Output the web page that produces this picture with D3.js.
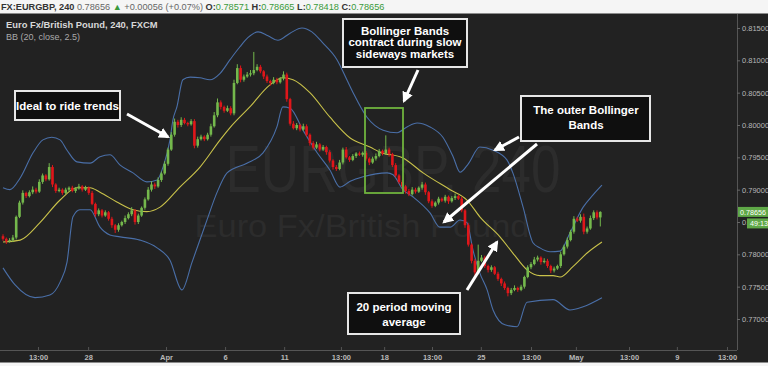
<!DOCTYPE html>
<html><head><meta charset="utf-8">
<script src="https://cdn.jsdelivr.net/npm/d3@7"></script>
<style>
html,body{margin:0;padding:0;background:#f4f4f4;}
svg{display:block;font-family:"Liberation Sans",Arial,sans-serif;}
</style></head><body>
<svg id="c" width="768" height="366"></svg>
<script>
// ---- data (4h candles, EURGBP) ----
const closes=[.7824,.7820,.7822,.7826,.7858,.7880,.7895,.7890,.7896,.7900,
 .7897,.7912,.7922,.7916,.7935,.7908,.7898,.7900,.7895,.7900,
 .7903,.7898,.7902,.7905,.7900,.7903,.7895,.7878,.7862,.7868,
 .7860,.7865,.7855,.7845,.7838,.7845,.7850,.7856,.7862,.7868,
 .7850,.7860,.7872,.7885,.7900,.7908,.7905,.7915,.7925,.7940,
 .7962,.7985,.8005,.8000,.8008,.8003,.8001,.8006,.7968,.7978,
 .7982,.7978,.7985,.7998,.8015,.8035,.8028,.8022,.8026,.8018,
 .8065,.8088,.8070,.8075,.8078,.8080,.8085,.8090,.8083,.8075,
 .8068,.8065,.8070,.8066,.8072,.8078,.8040,.8002,.7995,.8000,
 .7993,.7998,.7985,.7972,.7965,.7970,.7962,.7966,.7958,.7945,
 .7935,.7932,.7942,.7962,.7950,.7946,.7952,.7956,.7954,.7957,
 .7948,.7942,.7948,.7952,.7960,.7956,.7962,.7955,.7938,.7922,
 .7912,.7905,.7898,.7893,.7900,.7897,.7903,.7908,.7896,.7882,
 .7875,.7880,.7886,.7883,.7889,.7882,.7887,.7890,.7886,.7868,
 .7845,.7815,.7790,.7772,.7790,.7795,.7782,.7776,.7780,.7770,
 .7762,.7755,.7748,.7740,.7745,.7748,.7745,.7750,.7765,.7780,
 .7785,.7792,.7795,.7788,.7790,.7782,.7775,.7778,.7782,.7800,
 .7812,.7822,.7835,.7855,.7852,.7858,.7835,.7840,.7856,.7865,
 .7857,.78656];
const opens=[.7828,.7824,.7820,.7822,.7826,.7858,.7880,.7895,.7890,.7896,
 .7900,.7897,.7912,.7922,.7916,.7935,.7908,.7898,.7900,.7895,
 .7900,.7903,.7898,.7902,.7905,.7900,.7903,.7895,.7878,.7862,
 .7868,.7860,.7865,.7855,.7845,.7838,.7845,.7850,.7856,.7862,
 .7868,.7850,.7860,.7872,.7885,.7900,.7908,.7905,.7915,.7925,
 .7940,.7962,.7985,.8005,.8000,.8008,.8003,.8001,.8006,.7968,
 .7978,.7982,.7978,.7985,.7998,.8015,.8035,.8028,.8022,.8026,
 .8018,.8065,.8088,.8070,.8075,.8078,.8080,.8085,.8090,.8083,
 .8075,.8068,.8065,.8070,.8066,.8072,.8078,.8040,.8002,.7995,
 .8000,.7993,.7998,.7985,.7972,.7965,.7970,.7962,.7966,.7958,
 .7945,.7935,.7932,.7942,.7962,.7950,.7946,.7952,.7956,.7954,
 .7957,.7948,.7942,.7948,.7952,.7960,.7956,.7962,.7955,.7938,
 .7922,.7912,.7905,.7898,.7893,.7900,.7897,.7903,.7908,.7896,
 .7882,.7875,.7880,.7886,.7883,.7889,.7882,.7887,.7890,.7886,
 .7868,.7845,.7815,.7790,.7772,.7790,.7795,.7782,.7776,.7780,
 .7770,.7762,.7755,.7748,.7740,.7745,.7748,.7745,.7750,.7765,
 .7780,.7785,.7792,.7795,.7788,.7790,.7782,.7775,.7778,.7782,
 .7800,.7812,.7822,.7835,.7855,.7852,.7858,.7835,.7840,.7856,
 .7865,.78571];
// wick lengths beyond the body, in pips
const wickUp=[3,2,3,4,2,3,4,2,3,5, 3,4,3,2,6,3,2,3,2,3, 2,3,2,4,2,3,2,3,2,3,
 2,3,2,3,2,3,2,4,3,5, 2,3,2,3,4,5,3,4,3,4, 3,4,5,3,4,3,2,3,3,4,
 3,2,3,4,5,6,3,2,4,3, 5,6,4,3,4,5,28,4,3,2, 3,2,4,3,2,5,3,2,4,3,
 2,4,3,2,3,4,2,3,2,3, 2,3,4,3,4,2,3,2,3,2, 3,2,3,4,3,2,22,3,2,3,
 2,3,2,3,4,3,2,4,3,2, 3,2,3,2,3,2,3,4,2,3, 2,3,2,3,25,4,3,2,3,2,
 3,2,3,2,3,4,2,3,2,3, 3,4,3,2,4,3,2,3,2,4, 3,4,3,4,3,4,5,3,4,3, 3,1];
const wickDn=[3,4,2,3,3,2,3,3,2,3, 3,2,3,3,2,4,3,2,3,2, 3,2,3,2,3,2,3,2,4,3,
 3,2,3,4,5,3,2,3,2,3, 4,3,2,3,2,3,4,2,3,2, 3,2,3,4,3,2,3,2,4,3,
 2,3,2,3,2,3,4,3,2,3, 3,2,4,3,2,3,3,2,3,4, 3,4,2,3,2,3,4,3,2,3,
 3,2,3,4,3,2,3,2,4,3, 4,3,2,3,2,3,2,3,2,3, 3,4,2,3,2,3,2,4,3,3,
 3,2,4,3,2,3,2,3,4,3, 3,2,3,2,3,4,2,3,2,3, 4,3,4,5,3,2,3,4,3,2,
 3,4,3,5,3,2,3,2,3,2, 3,2,3,4,2,3,4,3,2,3, 2,3,2,3,2,3,4,3,2,3, 3,14];

// Bollinger bands (20, close, 2.5) read at candle positions
const upperIdx=[0,2.1,5.2,9.1,12.1,14.8,17.3,19.4,22.4,26.4,29.4,32.4,35.5,39.4,43.6,46.7,48.5,50.6,51.5,52.7,54.5,56.7,59.7,62.7,65.8,68.8,71.8,74.2,77.3,80.3,83.3,87,90.6,93.6,96.7,101.2,104.2,106.1,110.3,115.2,119.4,122.4,125.5,129.4,133.3,136.4,138.5,141,144.5,148.5,152.7,154.5,157.6,160.6,162.7,165.8,168.8,171.8,175.8,178.8,181.5];
const upperVal=[.7903,.7900,.7918,.7957,.7977,.7981,.7977,.7961,.7943,.7941,.7951,.7954,.7938,.7926,.7912,.7915,.7935,.7977,.8008,.8028,.8070,.8074,.8073,.8070,.8080,.8101,.8121,.8135,.8144,.8138,.8131,.8142,.8150,.8144,.8128,.8101,.8070,.8050,.8012,.7992,.7988,.7997,.8003,.7997,.7981,.7951,.7927,.7940,.7966,.7961,.7946,.7926,.7873,.7818,.7810,.7804,.7805,.7833,.7873,.7892,.7907];
const midIdx=[0,5.2,11.2,17.3,22.4,26.4,29.4,34.5,39.4,43.6,47.6,53.6,59.7,65.8,68.8,74.8,80.9,84.8,87.9,93,99.1,105.2,111.2,114.2,121.2,127.3,135.5,140.6,144.5,150.6,154.5,158.8,162.7,166.7,168.8,172.7,177,181.5];
const midVal=[.7819,.7822,.7849,.7884,.7903,.7903,.7896,.7881,.7869,.7866,.7873,.7904,.7935,.7977,.7996,.8028,.8062,.8073,.8070,.8050,.8012,.7980,.7966,.7958,.7949,.7926,.7900,.7884,.7858,.7827,.7802,.7776,.7767,.7767,.7765,.7781,.7802,.7819];
const lowerIdx=[0,3.6,9.7,14.2,17.3,19.4,21.2,23.3,26.4,29.4,32.4,35.5,41.5,46.7,50.6,54.2,57.3,61.8,64.8,67.9,73.9,78.8,83,84.8,87,90.9,95.2,99.1,102.1,105.2,109.1,116.4,118.2,121.2,124.2,129.4,132.4,135.5,138.5,140.6,142.4,144.5,146.7,148.5,152.1,155.8,158.8,166.7,171.8,175.8,181.5];
const lowerVal=[.7779,.7753,.7733,.7737,.7757,.7788,.7858,.7869,.7869,.7842,.7830,.7827,.7822,.7810,.7791,.7745,.7788,.7853,.7895,.7926,.7941,.7957,.7997,.8028,.8026,.7992,.7957,.7930,.7904,.7913,.7920,.7926,.7923,.7900,.7889,.7864,.7842,.7842,.7853,.7849,.7807,.7771,.7745,.7714,.7691,.7688,.7726,.7730,.7714,.7719,.7733];

const yTicks=[0.770,0.775,0.780,0.785,0.790,0.795,0.800,0.805,0.810,0.815];
const xTickIdx=[10.6,25.8,49.4,67.3,85.2,102.4,115.5,130,144.8,160,173.6,189.7,204.2,219.4];
const xTickLabels=["13:00","28","Apr","6","11","13:00","18","13:00","25","13:00","May","13:00","9","13:00"];
const lastPrice=0.78656, countdown="49:13";

// ---- drawing ----
const svg=d3.select("#c");
const W=768,H=366, plotR=737, plotT=14, plotB=350;
svg.append("rect").attr("x",0).attr("y",0).attr("width",W).attr("height",H).attr("fill","#f5f5f5");
svg.append("rect").attr("x",0).attr("y",13.5).attr("width",W).attr("height",349).attr("fill","#222222");

const x=d3.scaleLinear().domain([0,181]).range([3,600.3]);
const y=d3.scaleLinear().domain([0.770,0.815]).range([319,28]);

const defs=svg.append("defs");
defs.append("clipPath").attr("id","pc").append("rect")
  .attr("x",0).attr("y",plotT).attr("width",plotR).attr("height",plotB-plotT);
defs.append("clipPath").attr("id","tagclip").append("rect")
  .attr("x",0).attr("y",-8).attr("width",10).attr("height",16);
defs.append("marker").attr("id","ah").attr("viewBox","0 0 10 10")
  .attr("refX",8).attr("refY",5).attr("markerWidth",11).attr("markerHeight",11)
  .attr("markerUnits","userSpaceOnUse").attr("orient","auto")
  .append("path").attr("d","M0,0 L10,5 L0,10 Z").attr("fill","#ffffff");

const g=svg.append("g").attr("clip-path","url(#pc)");

// watermark
g.append("text").attr("x",393).attr("y",192).attr("text-anchor","middle")
  .attr("font-size",66).attr("fill","#2c2c2c").attr("textLength",335).attr("lengthAdjust","spacingAndGlyphs")
  .text("EURGBP, 240");
g.append("text").attr("x",362).attr("y",237).attr("text-anchor","middle")
  .attr("font-size",32).attr("fill","#2c2c2c").attr("textLength",335).attr("lengthAdjust","spacingAndGlyphs")
  .text("Euro Fx/British Pound");

// bands
const line=d3.line().x(d=>x(d[0])).y(d=>y(d[1])).curve(d3.curveMonotoneX);
const band=(ix,vals,col,w)=>g.append("path").attr("d",line(ix.map((v,i)=>[v,vals[i]])))
  .attr("fill","none").attr("stroke",col).attr("stroke-width",w);
band(upperIdx,upperVal,"#4a6fa8",1.1);
band(lowerIdx,lowerVal,"#4a6fa8",1.1);
band(midIdx,midVal,"#c9c24a",1.1);

// candles
const candles=closes.map((c,i)=>{const o=opens[i];return {i,o,c,
  h:Math.max(o,c)+wickUp[i]*0.0001,l:Math.min(o,c)-wickDn[i]*0.0001};});
const col=d=>d.c>=d.o?"#74b84c":"#e0161a";
const cg=g.append("g");
cg.selectAll("line.w").data(candles).join("line").attr("class","w")
  .attr("x1",d=>x(d.i)).attr("x2",d=>x(d.i)).attr("y1",d=>y(d.h)).attr("y2",d=>y(d.l))
  .attr("stroke",col).attr("stroke-width",1);
cg.selectAll("rect.b").data(candles).join("rect").attr("class","b")
  .attr("x",d=>x(d.i)-1.3).attr("width",2.6)
  .attr("y",d=>y(Math.max(d.o,d.c)))
  .attr("height",d=>Math.max(1,Math.abs(y(d.o)-y(d.c))))
  .attr("fill",col);

// axes frame
svg.append("line").attr("x1",plotR+0.5).attr("x2",plotR+0.5).attr("y1",plotT).attr("y2",plotB).attr("stroke","#555");
const xa=svg.append("g").attr("transform",`translate(0,${plotB})`)
  .call(d3.axisBottom(x).tickValues(xTickIdx).tickFormat((d,i)=>xTickLabels[i]).tickSize(-3).tickSizeOuter(0));
xa.select(".domain").attr("d",`M0,0.5H${plotR}`).attr("stroke","#555");
xa.selectAll(".tick line").attr("stroke","#555");
xa.selectAll("text").attr("fill","#b8b8b8").attr("font-size",7.5).attr("font-weight","bold").attr("dy",null).attr("y",10);

const covered=0.785;
const ya=svg.append("g").attr("transform",`translate(${plotR},0)`)
  .call(d3.axisRight(y).tickValues(yTicks).tickFormat(d3.format(".5f")).tickSize(3));
ya.select(".domain").remove();
ya.selectAll(".tick line").attr("stroke","#666");
ya.selectAll("text").attr("fill","#b8b8b8").attr("font-size",7.5).attr("x",5);
// the label behind the countdown tag only shows its first glyph
ya.selectAll(".tick").filter(d=>Math.abs(d-covered)<1e-9).select("text")
  .attr("clip-path","url(#tagclip)");

// last price tags
const ly=y(lastPrice);
svg.append("rect").attr("x",738).attr("y",ly-5).attr("width",30).attr("height",10).attr("fill","#5fa847");
svg.append("text").attr("x",740).attr("y",ly+2.7).attr("font-size",7.2).attr("fill","#fff").text(d3.format(".5f")(lastPrice));
svg.append("rect").attr("x",747).attr("y",ly+6.5).attr("width",21).attr("height",10).attr("fill","#5fa847");
svg.append("text").attr("x",750).attr("y",ly+14.3).attr("font-size",7.2).attr("fill","#fff").text(countdown);

// header
const hd=svg.append("text").attr("x",1).attr("y",10).attr("font-size",9.2);
hd.append("tspan").attr("font-weight","bold").attr("fill","#333").text("FX:EURGBP, 240 ");
hd.append("tspan").attr("fill","#666").text("0.78656 ");
hd.append("tspan").attr("fill","#3a9a3a").text("▲ ");
hd.append("tspan").attr("fill","#666").text("+0.00056 (+0.07%) ");
[["O:","0.78571 "],["H:","0.78665 "],["L:","0.78418 "],["C:","0.78656"]].forEach(p=>{
  hd.append("tspan").attr("font-weight","bold").attr("fill","#333").text(p[0]);
  hd.append("tspan").attr("fill","#3a9a3a").text(p[1]);
});
svg.append("text").attr("x",6).attr("y",28).attr("font-size",9.4).attr("font-weight","bold").attr("fill","#d8d8d8").text("Euro Fx/British Pound, 240, FXCM");
svg.append("text").attr("x",6).attr("y",39.5).attr("font-size",9).attr("fill","#aaaaaa").text("BB (20, close, 2.5)");

// annotations
const box=(x0,y0,w,h,lines,cx,by,lh)=>{
  svg.append("rect").attr("x",x0).attr("y",y0).attr("width",w).attr("height",h)
    .attr("fill","#0f0f0f").attr("stroke","#e6e6e6").attr("stroke-width",2);
  lines.forEach((t,k)=>svg.append("text").attr("x",cx).attr("y",by+k*lh).attr("text-anchor","middle")
    .attr("font-size",11.5).attr("font-weight","bold").attr("fill","#ffffff").text(t));
};
const arrow=(x1,y1,x2,y2)=>svg.append("line").attr("x1",x1).attr("y1",y1).attr("x2",x2).attr("y2",y2)
  .attr("stroke","#fff").attr("stroke-width",3).attr("marker-end","url(#ah)");

svg.append("rect").attr("x",365).attr("y",108).attr("width",38).attr("height",85)
  .attr("fill","none").attr("stroke","#6fb33e").attr("stroke-width",1.8);
box(15,91,105,29,["Ideal to ride trends"],67.5,109.5,0);
arrow(127,114,168,137);
box(343,19,124,48,["Bollinger Bands","contract during slow","sideways markets"],405,34.5,11.8);
arrow(418,70,404,101);
box(521,96,129,45,["The outer Bollinger","Bands"],586,114,14.5);
arrow(519,137,495,150);
arrow(537,144,444,222);
box(348,293,112,41,["20 period moving","average"],404,311,15);
arrow(467,290,497,242);
</script>
</body></html>
